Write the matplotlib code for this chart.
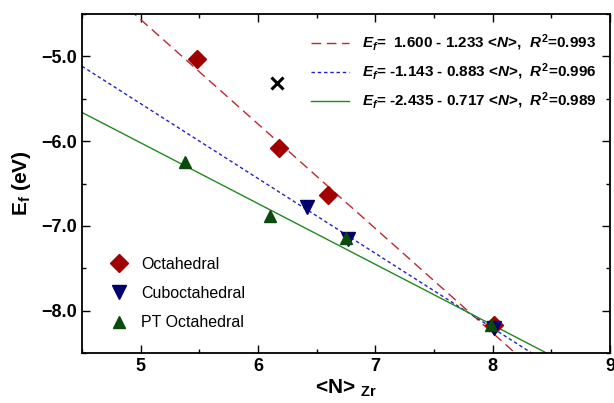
import numpy as np
import matplotlib.pyplot as plt
from matplotlib.ticker import MultipleLocator, FuncFormatter

plt.rcParams['font.family'] = ['Liberation Sans', 'DejaVu Sans']
plt.rcParams['mathtext.fontset'] = 'custom'
plt.rcParams['mathtext.rm'] = 'Liberation Sans:bold'
plt.rcParams['mathtext.it'] = 'Liberation Sans:italic:bold'
plt.rcParams['mathtext.bf'] = 'Liberation Sans:bold'

# data
oct_n = [5.48, 6.18, 6.60, 8.01]
oct_e = [-5.03, -6.08, -6.64, -8.17]
cub_n = [6.42, 6.77, 8.01]
cub_e = [-6.78, -7.15, -8.20]
pto_n = [5.38, 6.10, 6.75, 7.99]
pto_e = [-6.25, -6.88, -7.14, -8.17]
odd_n = [6.16]
odd_e = [-5.32]

# linear fits E_f = a + b <N>
fits = [
    (1.600, -1.233, 0.993, '#c0272d', (0, (7, 4))),
    (-1.143, -0.883, 0.996, '#2020d0', (0, (2.5, 2))),
    (-2.435, -0.717, 0.989, '#1e8a1e', '-'),
]

fig = plt.figure(figsize=(6.14, 4.03), dpi=100)
ax = fig.add_axes([82/614, 50/403, 528/614, 339/403])

xs = np.array([4.5, 9.0])
line_handles = []
for a, b, r2, col, ls in fits:
    astr = ('%.3f' % a) if a > 0 else '-%.3f' % abs(a)
    gap = '  ' if a > 0 else ' '
    lab = r'$E_f$=%s%s - %.3f <$N$>,  $R^2$=%.3f' % (gap, astr, abs(b), r2)
    h, = ax.plot(xs, a + b * xs, color=col, ls=ls, lw=1.0, label=lab)
    line_handles.append(h)

h1, = ax.plot(oct_n, oct_e, 'D', color='#a00000', ms=9, ls='none', label='Octahedral')
h2, = ax.plot(cub_n, cub_e, 'v', color='#00006e', ms=10, ls='none', label='Cuboctahedral')
h3, = ax.plot(pto_n, pto_e, '^', color='#0a4a0a', ms=9, ls='none', label='PT Octahedral')
ax.plot(odd_n, odd_e, 'x', color='black', ms=8, mew=2.2)

ax.set_xlim(4.5, 9.0)
ax.set_ylim(-8.5, -4.5)
ax.xaxis.set_major_locator(MultipleLocator(1))
ax.xaxis.set_minor_locator(MultipleLocator(0.5))
ax.yaxis.set_major_locator(MultipleLocator(1))
ax.yaxis.set_minor_locator(MultipleLocator(0.5))
ax.yaxis.set_major_formatter(FuncFormatter(lambda v, p: ('%.1f' % v).replace('-', '\u2212')))
ax.tick_params(which='both', direction='in', top=True, right=True, labelsize=13)
ax.tick_params(which='major', length=6, width=1.0)
ax.tick_params(which='minor', length=3, width=1.0)
for lbl in ax.get_xticklabels() + ax.get_yticklabels():
    lbl.set_fontweight('bold')
for sp in ax.spines.values():
    sp.set_linewidth(1.3)

ax.set_ylabel(r'E$_\mathbf{f}$ (eV)', fontsize=15, fontweight='bold', labelpad=6)
ax.set_xlabel(r'<N> $_{\mathbf{Zr}}$', fontsize=15, fontweight='bold', labelpad=2)

leg1 = ax.legend(handles=line_handles, loc='upper right', frameon=False,
                 prop={'size': 11, 'weight': 'bold'}, handlelength=2.5,
                 bbox_to_anchor=(1.0, 0.985), labelspacing=0.55)
ax.add_artist(leg1)
ax.legend(handles=[h1, h2, h3], loc='lower left', frameon=False,
          prop={'size': 11.5}, handlelength=1.2, borderaxespad=0.8,
          bbox_to_anchor=(0.015, 0.01), labelspacing=0.9)

fig.savefig('out.png', dpi=100)
